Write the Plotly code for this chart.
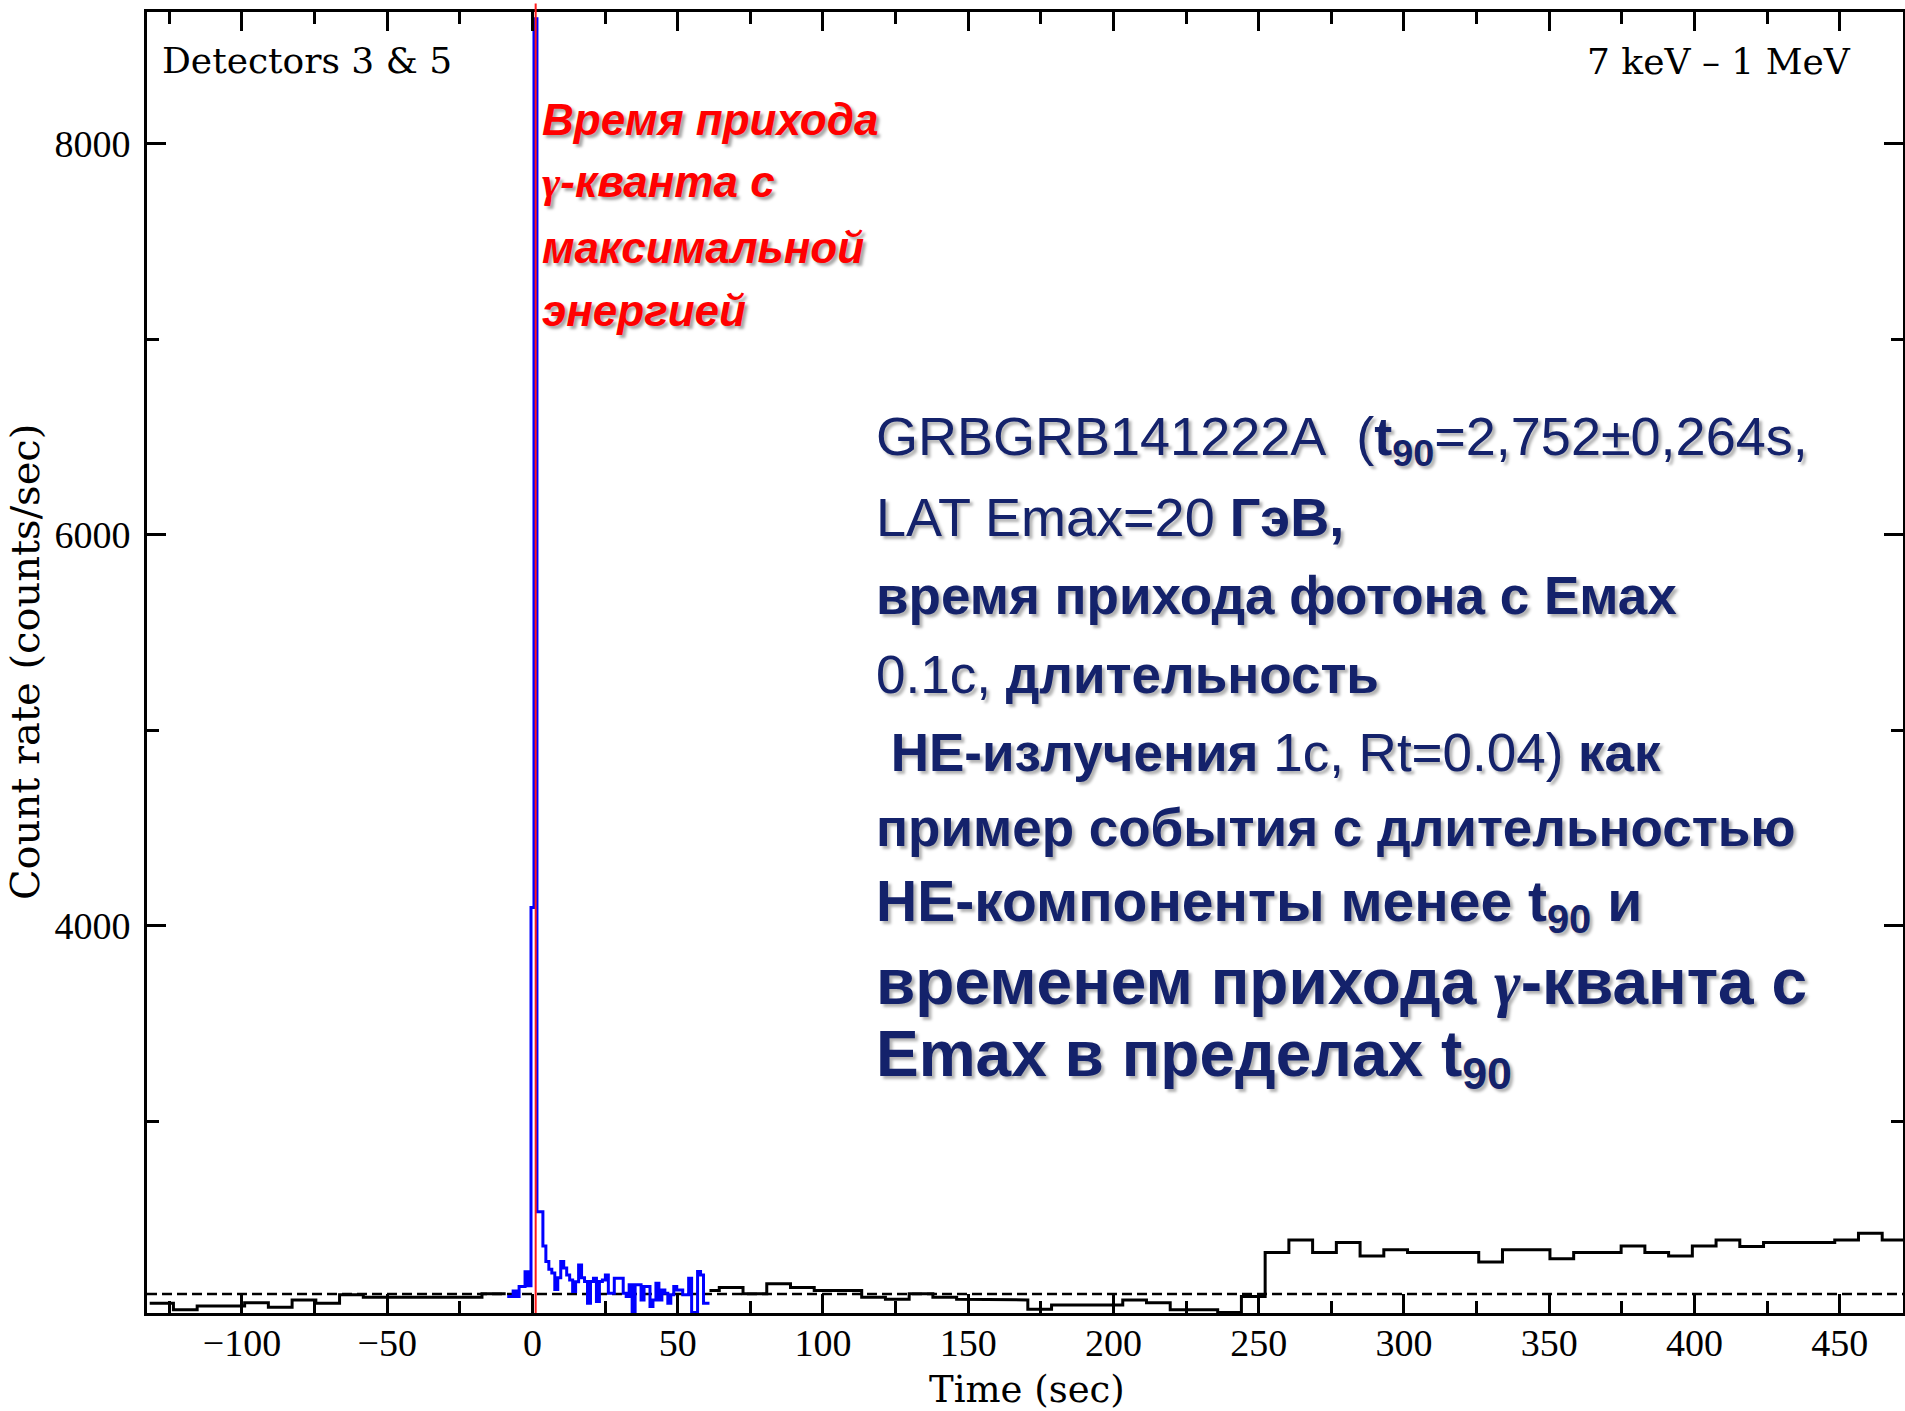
import numpy as np
import plotly.graph_objects as go

# ---------------------------------------------------------------------------
# Light-curve data, detectors 3 & 5, 7 keV - 1 MeV (count rate, counts/sec)
# ---------------------------------------------------------------------------
# Fine-resolution segment around the trigger (blue), 1.024 s bins
FINE_START = -8.7
FINE_BIN = 1.024
fine_rate = [2104, 2104, 2133, 2104, 2155, 2155, 2231, 2160,
             4094, 8640, 2538, 2538, 2363, 2283, 2244,
             2225, 2140, 2200, 2283, 2250, 2215, 2189, 2130, 2180, 2266, 2200, 2181, 2070,
             2181, 2198, 2079, 2181, 2189, 2215, 2121, 2121, 2198, 2198, 2198, 2121, 2104,
             2164, 2027, 2164, 2164, 2087, 2155, 2155, 2053, 2087, 2172, 2087, 2138, 2121,
             2070, 2113, 2155, 2138, 2138, 2113, 2113, 2198, 2022, 2022, 2232, 2215, 2070, 2070]

# Coarse background light curve (black), ~8.17 s bins; None = trigger window
COARSE_START = -131.77
COARSE_BIN = 8.17
coarse_rate = [2070, 2036, 2056, 2056, 2073, 2050, 2087, 2070, 2113, 2101, 2101, 2101, 2101, 2101, 2118,
               None, None, None, None, None, None, None, None,
               2135, 2151, 2118, 2169, 2151, 2135, 2135, 2101, 2090, 2118, 2101, 2090, 2087, 2087,
               2039, 2061, 2061, 2061, 2087, 2073, 2036, 2036, 2022, 2104,
               2329, 2394, 2329, 2380, 2312, 2343, 2329, 2329, 2329, 2281, 2343, 2343, 2298, 2329,
               2329, 2363, 2329, 2312, 2363, 2394, 2360, 2380, 2380, 2380, 2394, 2428, 2394]

BACKGROUND_LEVEL = 2117      # dashed background estimate
MAX_PHOTON_TIME = 1.1        # arrival of the highest-energy LAT photon (s)

X_RANGE = [-132.7, 471.8]
Y_RANGE = [2020, 8675]
x_tick_vals = [-100, -50, 0, 50, 100, 150, 200, 250, 300, 350, 400, 450]
x_tick_text = ["\u2212100", "\u221250", "0", "50", "100", "150", "200", "250", "300", "350", "400", "450"]
y_tick_vals = [4000, 6000, 8000]
y_tick_text = ["4000", "6000", "8000"]


def step_xy(edges, values):
    """Histogram outline from bin edges and per-bin values (None -> gap)."""
    xs, ys = [], []
    for i, v in enumerate(values):
        if v is None:
            if xs and xs[-1] is not None:
                xs.append(None)
                ys.append(None)
            continue
        xs += [edges[i], edges[i + 1]]
        ys += [v, v]
    return xs, ys


fine_edges = FINE_START + FINE_BIN * np.arange(len(fine_rate) + 1)
coarse_edges = COARSE_START + COARSE_BIN * np.arange(len(coarse_rate) + 1)
# the coarse curve resumes where the fine segment ends
for i in range(1, len(coarse_rate)):
    if coarse_rate[i] is not None and coarse_rate[i - 1] is None:
        coarse_edges[i] = max(coarse_edges[i], fine_edges[-1])

fig = go.Figure()

cx, cy = step_xy(list(coarse_edges), coarse_rate)
fig.add_trace(go.Scatter(x=cx, y=cy, mode="lines", line=dict(color="black", width=3),
                         connectgaps=False, hoverinfo="skip"))

fig.add_trace(go.Scatter(x=X_RANGE, y=[BACKGROUND_LEVEL, BACKGROUND_LEVEL], mode="lines",
                         line=dict(color="black", width=2.5, dash="10px,5px"), hoverinfo="skip"))

fx, fy = step_xy(list(fine_edges), fine_rate)
fig.add_trace(go.Scatter(x=fx, y=fy, mode="lines", line=dict(color="#0000ff", width=3),
                         hoverinfo="skip"))

# vertical marker for the max-energy photon
fig.add_shape(type="line", xref="x", yref="paper", x0=MAX_PHOTON_TIME, x1=MAX_PHOTON_TIME,
              y0=0, y1=1.0065, line=dict(color="#ff1a1a", width=2), layer="above")

# ---------------------------------------------------------------------------
# Layout
# ---------------------------------------------------------------------------
W, H = 1905, 1411
ML, MR, MT, MB = 147, 2, 12, 98
PW, PH = W - ML - MR, H - MT - MB


def px(xp):
    return (xp - ML) / PW


def py(yp):
    return (H - MB - yp) / PH


tick_font = dict(family="Liberation Serif", size=38, color="black")
axis_common = dict(showline=True, linewidth=3, linecolor="black", mirror="allticks",
                   ticks="inside", tickwidth=2.5, tickcolor="black", showgrid=False,
                   zeroline=False, tickfont=tick_font, fixedrange=True)

fig.update_layout(
    width=W, height=H,
    margin=dict(l=ML, r=MR, t=MT, b=MB, autoexpand=False),
    plot_bgcolor="white", paper_bgcolor="white", showlegend=False,
    xaxis=dict(range=X_RANGE, tickmode="array", tickvals=x_tick_vals, ticktext=x_tick_text,
               ticklen=19, ticklabelstandoff=-6,
               minor=dict(tickmode="linear", tick0=0, dtick=25, ticks="inside", ticklen=12,
                          tickwidth=2.5, tickcolor="black", showgrid=False),
               **axis_common),
    yaxis=dict(range=Y_RANGE, tickmode="array", tickvals=y_tick_vals, ticktext=y_tick_text,
               ticklen=19, ticklabelstandoff=6,
               minor=dict(tickmode="linear", tick0=0, dtick=1000, ticks="inside", ticklen=12,
                          tickwidth=2.5, tickcolor="black", showgrid=False),
               **axis_common),
)

serif = "DejaVu Serif"


def note(text, x, y, size, family, color="black", xanchor="left", yanchor="middle",
         angle=0, weight="normal", style="normal", shadow=None):
    font = dict(family=family, size=size, color=color, weight=weight, style=style)
    if shadow:
        font["shadow"] = shadow
    fig.add_annotation(text=text, xref="paper", yref="paper", x=px(x), y=py(y),
                       xanchor=xanchor, yanchor=yanchor, showarrow=False, textangle=angle,
                       font=font, borderpad=0)


# axis titles and panel labels
note("Time (sec)", 1027, 1389, 37, serif, xanchor="center")
note("Count rate (counts/sec)", 25, 662, 40, serif, xanchor="center", angle=-90)
note("Detectors 3 &amp; 5", 161, 61, 36, serif)
note("7 keV \u2013 1 MeV", 1852, 62, 36, serif, xanchor="right")

# red caption next to the photon marker
red_shadow = "3px 3px 3px rgba(0,0,0,0.35)"
gamma_red = "<span style='font-family:Liberation Serif'>\u03b3</span>"
red_lines = ["Время прихода", gamma_red + "-кванта с", "максимальной", "энергией"]
red_y = [119, 182, 247, 310]
for t, yy in zip(red_lines, red_y):
    note(t, 541, yy, 44, "Liberation Sans", color="#ff0000", weight="bold", style="italic",
         shadow=red_shadow)

# navy description block
navy = "#14226b"
navy_shadow = "3px 3px 3px rgba(0,0,0,0.3)"
sans = "Liberation Sans"
nb = "\u00a0"
gamma_navy = "<span style='font-family:Liberation Serif;font-style:italic'>\u03b3</span>"
navy_lines = [
    ("GRBGRB141222A" + nb + nb + "(<b>t<sub>90</sub></b>=2,752±0,264s,", 54),
    ("LAT Emax=20 <b>ГэВ,</b>", 54),
    ("<b>время прихода фотона с Емах</b>", 53),
    ("0.1с, <b>длительность</b>", 53),
    (nb + "<b>НЕ-излучения</b> 1с, Rt=0.04) <b>как</b>", 53),
    ("<b>пример события с длительностью</b>", 53),
    ("<b>НЕ-компоненты менее t<sub>90</sub> и</b>", 57),
    ("<b>временем прихода " + gamma_navy + "-кванта с</b>", 64),
    ("<b>Emax в пределах t<sub>90</sub></b>", 64),
]
navy_y = [440, 517, 595, 674, 752, 828, 905, 982, 1058]
for (t, size), yy in zip(navy_lines, navy_y):
    note(t, 875, yy, size, sans, color=navy, shadow=navy_shadow)

fig.write_html("out.html")
